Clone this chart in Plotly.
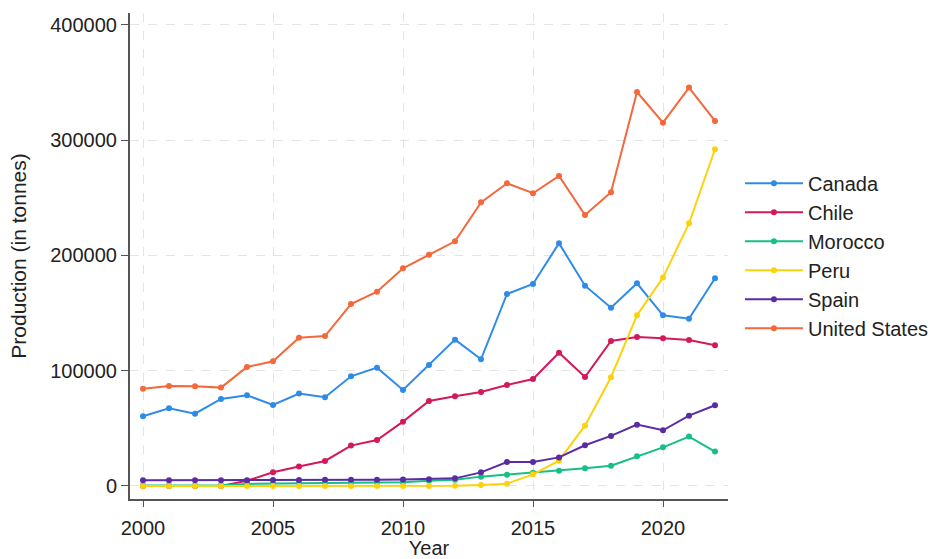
import plotly.graph_objects as go

years = list(range(2000, 2023))

canada = [60400, 67400, 62700, 75500, 78700, 70300, 80100, 76900, 95100, 102600, 83300, 104900,
          126900, 109900, 166500, 175200, 210500, 173700, 154600, 175800, 148000, 145100, 180100]
chile = [0, 0, 0, 0, 4500, 11900, 16800, 21700, 35000, 39900, 55800, 73700,
         77800, 81500, 87600, 92800, 115600, 94500, 125800, 129200, 128100, 126600, 122000]
morocco = [500, 500, 500, 600, 1800, 2200, 2500, 2700, 2900, 3000, 3200, 4500,
           5500, 8100, 9800, 11500, 13300, 15300, 17600, 25700, 33500, 42800, 29800]
peru = [0, 0, 0, 0, 0, 0, 0, 0, 0, 0, 0, 0,
        100, 900, 2000, 10100, 21900, 52300, 94300, 148000, 180700, 227800, 292000]
spain = [4900, 4900, 4900, 4900, 5000, 5100, 5200, 5300, 5400, 5500, 5600, 5800,
         6600, 11800, 20800, 20800, 24800, 35300, 43400, 53200, 48300, 61000, 70000]
usa = [84400, 86700, 86400, 85300, 103200, 108100, 128600, 130000, 157800, 168500, 188800, 200600,
       212200, 246000, 262500, 253900, 268900, 235000, 254700, 341700, 315100, 345500, 316600]

series = [
    ("Canada", canada, "#2f8be8"),
    ("Chile", chile, "#d4185c"),
    ("Morocco", morocco, "#16c083"),
    ("Peru", peru, "#fcd20f"),
    ("Spain", spain, "#5a2ca3"),
    ("United States", usa, "#f4683a"),
]

x_ticks = [2000, 2005, 2010, 2015, 2020]
y_ticks = [0, 100000, 200000, 300000, 400000]

fig = go.Figure()
for name, vals, color in series:
    fig.add_trace(go.Scatter(
        x=years, y=vals, name=name, mode="lines+markers",
        line=dict(color=color, width=2),
        marker=dict(color=color, size=6),
    ))

font = "Liberation Sans, Arial, sans-serif"
fig.update_layout(
    width=936, height=559,
    margin=dict(l=130, r=208, t=13, b=60, autoexpand=False),
    paper_bgcolor="white", plot_bgcolor="white",
    font=dict(family=font, size=20, color="#222222"),
    showlegend=True,
    legend=dict(x=1.02, y=0.69, xanchor="left", yanchor="top",
                font=dict(size=20, color="#222222"), itemwidth=58,
                tracegroupgap=0, bgcolor="rgba(0,0,0,0)"),
    xaxis=dict(
        range=[1999.5, 2022.5], tickvals=x_ticks, ticktext=[str(v) for v in x_ticks],
        showline=True, linecolor="#555555", linewidth=2,
        ticks="outside", ticklen=6, tickcolor="#555555",
        showgrid=True, gridcolor="#e4e4e4", griddash="dash", gridwidth=1,
        zeroline=False, ticklabelstandoff=4, automargin=False,
        title=dict(text="Year", font=dict(size=20), standoff=14),
        tickfont=dict(size=20),
    ),
    yaxis=dict(
        range=[-11300, 410200], tickvals=y_ticks, ticktext=[str(v) for v in y_ticks],
        showline=True, linecolor="#555555", linewidth=2,
        ticks="outside", ticklen=7, tickcolor="#555555",
        showgrid=True, gridcolor="#e4e4e4", griddash="dash", gridwidth=1,
        zeroline=False, automargin=False,
        title=dict(text="Production (in tonnes)", font=dict(size=21), standoff=18),
        tickfont=dict(size=20),
    ),
)

fig.write_html("out.html")
